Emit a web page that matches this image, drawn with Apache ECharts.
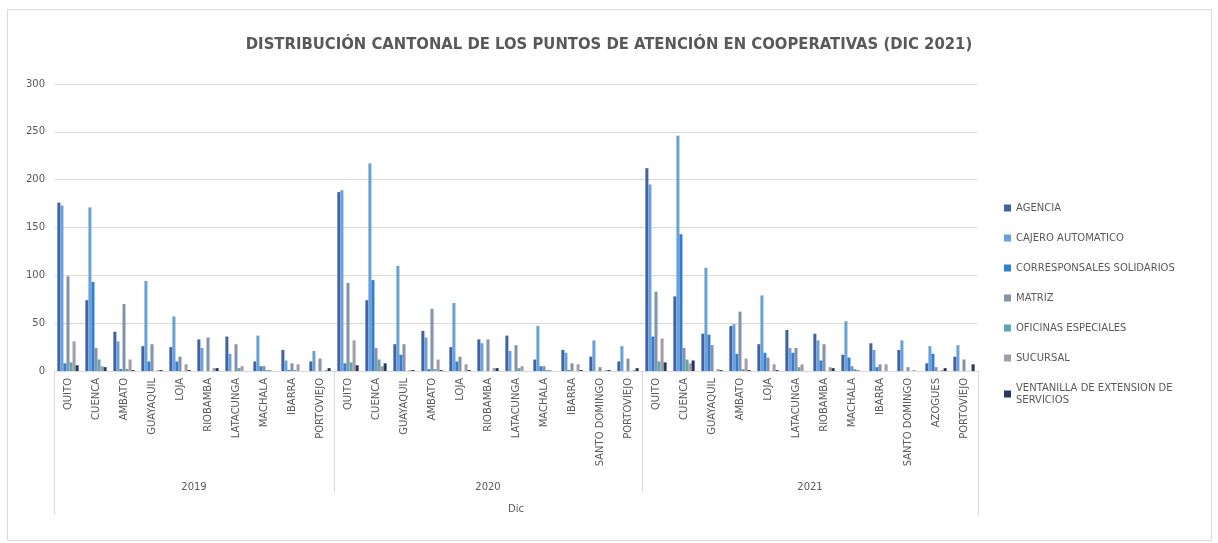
<!DOCTYPE html>
<html>
<head>
<meta charset="utf-8">
<script src="https://cdn.jsdelivr.net/npm/echarts@6/dist/echarts.min.js"></script>
<style>
  html, body { margin: 0; padding: 0; background: #ffffff; }
  #chart { width: 1218px; height: 543px; }
</style>
</head>
<body>
<div id="chart"></div>
<script>
// Cantons per year (December cut-off)
const years = ['2019', '2020', '2021'];
const cantons2019 = ['QUITO', 'CUENCA', 'AMBATO', 'GUAYAQUIL', 'LOJA', 'RIOBAMBA', 'LATACUNGA', 'MACHALA', 'IBARRA', 'PORTOVIEJO'];
const cantons2020 = ['QUITO', 'CUENCA', 'GUAYAQUIL', 'AMBATO', 'LOJA', 'RIOBAMBA', 'LATACUNGA', 'MACHALA', 'IBARRA', 'SANTO DOMINGO', 'PORTOVIEJO'];
const cantons2021 = ['QUITO', 'CUENCA', 'GUAYAQUIL', 'AMBATO', 'LOJA', 'LATACUNGA', 'RIOBAMBA', 'MACHALA', 'IBARRA', 'SANTO DOMINGO', 'AZOGUES', 'PORTOVIEJO'];

// Points of service by type (2019 cantons, then 2020, then 2021)
const agencia = [176, 74, 41, 26, 25, 33, 36, 10, 22, 10,
                 187, 74, 28, 42, 25, 33, 37, 12, 22, 15, 10,
                 212, 78, 39, 47, 28, 43, 39, 17, 29, 22, 8, 15];
const cajeroAutomatico = [173, 171, 31, 94, 57, 24, 18, 37, 11, 21,
                          189, 217, 110, 35, 71, 29, 21, 47, 19, 32, 26,
                          195, 246, 108, 49, 79, 24, 32, 52, 22, 32, 26, 27];
const corresponsales = [8, 93, 2, 10, 10, 0, 0, 5, 1, 0,
                        8, 95, 17, 2, 10, 0, 0, 5, 1, 0, 0,
                        36, 143, 38, 18, 19, 19, 11, 14, 4, 0, 18, 0];
const matriz = [99, 24, 70, 28, 15, 35, 28, 5, 8, 13,
                92, 24, 28, 65, 15, 33, 27, 5, 8, 4, 13,
                83, 24, 27, 62, 14, 24, 28, 5, 7, 4, 4, 12];
const oficinasEspeciales = [9, 12, 2, 0, 0, 0, 3, 1, 1, 0,
                            9, 12, 0, 2, 0, 0, 3, 1, 0, 0, 0,
                            10, 12, 0, 2, 0, 4, 0, 2, 0, 0, 0, 0];
const sucursal = [31, 5, 12, 1, 7, 3, 5, 1, 7, 1,
                  32, 5, 1, 12, 7, 3, 5, 1, 7, 1, 1,
                  34, 8, 2, 13, 7, 7, 4, 1, 7, 1, 1, 0];
const ventanilla = [6, 4, 1, 1, 1, 3, 0, 0, 0, 3,
                    6, 8, 1, 1, 1, 3, 0, 0, 1, 1, 3,
                    9, 11, 1, 1, 1, 0, 3, 0, 0, 0, 3, 7];

const yTicks = [0, 50, 100, 150, 200, 250, 300];

const seriesNames = ['AGENCIA', 'CAJERO AUTOMATICO', 'CORRESPONSALES SOLIDARIOS', 'MATRIZ',
                     'OFICINAS ESPECIALES', 'SUCURSAL', 'VENTANILLA DE EXTENSION DE SERVICIOS'];
const seriesData = [agencia, cajeroAutomatico, corresponsales, matriz, oficinasEspeciales, sucursal, ventanilla];
const seriesColors = ['#4262a8', '#69a1d9', '#2f7fd6', '#8492ac', '#5aa9b1', '#a49cab', '#263960'];

const cantonGroups = [cantons2019, cantons2020, cantons2021];
// unique category keys "year|canton"
const categories = [];
cantonGroups.forEach((g, gi) => g.forEach(c => categories.push(years[gi] + '|' + c)));

const textColor = '#595959';
const lineColor = '#d9d9d9';
const font = 'DejaVu Sans';

const chart = echarts.init(document.getElementById('chart'), null, { renderer: 'canvas' });

const option = {
  backgroundColor: '#ffffff',
  animation: false,
  title: {
    text: 'DISTRIBUCIÓN CANTONAL DE LOS PUNTOS DE ATENCIÓN EN COOPERATIVAS (DIC 2021)',
    left: 'center',
    top: 31,
    textStyle: { fontFamily: '"DejaVu Sans Condensed", "Liberation Sans", sans-serif', fontWeight: 'bold', fontSize: 16.5, color: textColor }
  },
  grid: { left: 54, right: 240, top: 84, bottom: 172, containLabel: false },
  legend: {
    orient: 'vertical',
    left: 999,
    top: 197,
    itemWidth: 7,
    itemHeight: 7,
    itemGap: 18,
    icon: 'rect',
    textStyle: { fontFamily: font, fontSize: 10, color: textColor, lineHeight: 12 },
    formatter: n => n === 'VENTANILLA DE EXTENSION DE SERVICIOS' ? 'VENTANILLA DE EXTENSION DE\nSERVICIOS' : n,
    data: seriesNames
  },
  xAxis: {
    type: 'category',
    data: categories,
    axisLine: { lineStyle: { color: lineColor } },
    axisTick: { show: false },
    axisLabel: {
      interval: 0,
      rotate: 90,
      margin: 7,
      fontFamily: font,
      fontSize: 10,
      color: textColor,
      formatter: v => v.split('|')[1]
    },
    splitLine: { show: false }
  },
  yAxis: {
    type: 'value',
    min: yTicks[0],
    max: yTicks[yTicks.length - 1],
    interval: yTicks[1] - yTicks[0],
    axisLine: { show: false },
    axisTick: { show: false },
    axisLabel: { fontFamily: font, fontSize: 10, color: textColor, margin: 9 },
    splitLine: { lineStyle: { color: lineColor, width: 1 } }
  },
  series: seriesNames.map((name, i) => ({
    name,
    type: 'bar',
    data: seriesData[i],
    itemStyle: { color: seriesColors[i] },
    barGap: '0%',
    barCategoryGap: '24%'
  }))
};

chart.setOption(option);

// Multi-level axis: year group dividers, year labels and the period caption
function drawGroups() {
  const grid = chart.getModel().getComponent('grid').coordinateSystem.getRect();
  const p0 = chart.convertToPixel({ xAxisIndex: 0 }, categories[0]);
  const p1 = chart.convertToPixel({ xAxisIndex: 0 }, categories[1]);
  const band = p1 - p0;
  const axisY = grid.y + grid.height;
  const graphics = [];
  let start = 0;
  const bounds = [];
  cantonGroups.forEach(g => { bounds.push([start, start + g.length]); start += g.length; });
  const edgeX = idx => chart.convertToPixel({ xAxisIndex: 0 }, categories[Math.min(idx, categories.length - 1)]) + (idx >= categories.length ? band / 2 : -band / 2);

  bounds.forEach((b, gi) => {
    const x0 = edgeX(b[0]);
    const x1 = edgeX(b[1]);
    graphics.push({
      type: 'text',
      x: (x0 + x1) / 2, y: axisY + 116,
      style: { text: years[gi], fontFamily: font, fontSize: 10, fill: textColor, align: 'center', verticalAlign: 'middle' }
    });
  });
  // dividers
  const xs = [edgeX(0)].concat(bounds.map(b => edgeX(b[1])));
  xs.forEach((x, i) => {
    const outer = i === 0 || i === xs.length - 1;
    const xx = Math.round(x) + 0.5;
    graphics.push({
      type: 'line',
      shape: { x1: xx, y1: axisY, x2: xx, y2: axisY + (outer ? 144 : 122) },
      style: { stroke: lineColor, lineWidth: 1 }
    });
  });
  graphics.push({
    type: 'text',
    x: (xs[0] + xs[xs.length - 1]) / 2, y: axisY + 138,
    style: { text: 'Dic', fontFamily: font, fontSize: 10, fill: textColor, align: 'center', verticalAlign: 'middle' }
  });
  // chart frame
  graphics.push({
    type: 'rect',
    shape: { x: 7.5, y: 9.5, width: 1204, height: 531 },
    style: { fill: 'none', stroke: lineColor, lineWidth: 1 },
    silent: true
  });
  chart.setOption({ graphic: graphics });
}
drawGroups();
</script>
</body>
</html>
